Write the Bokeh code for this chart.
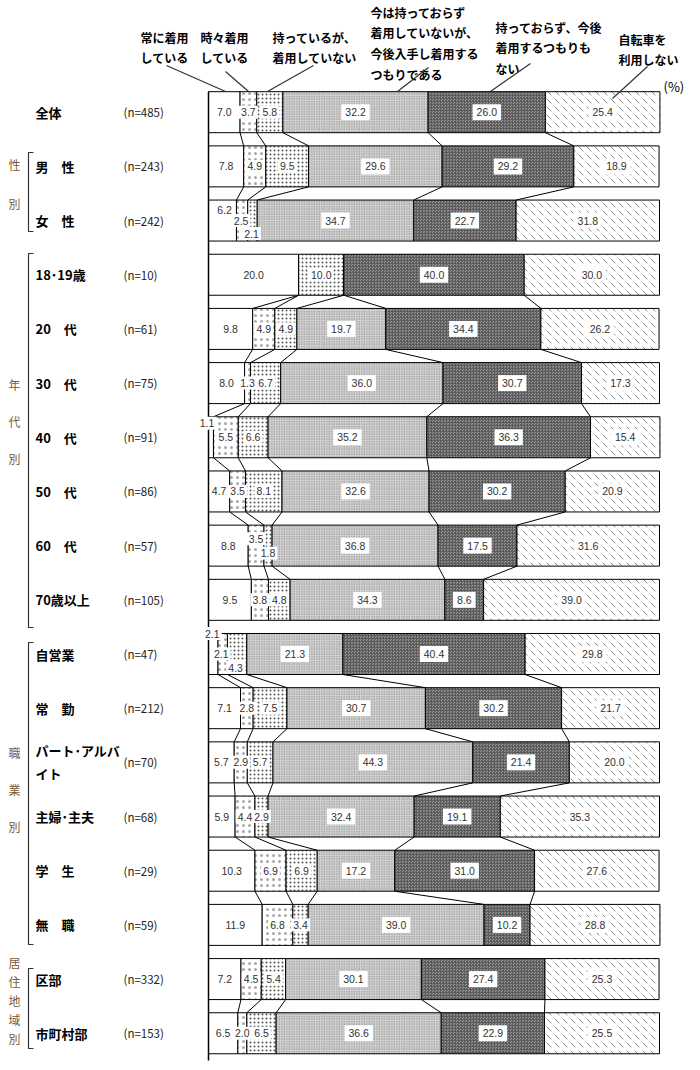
from bokeh.plotting import figure
from bokeh.models import Range1d, ColumnDataSource
from bokeh.core.properties import value
from bokeh.embed import file_html
from bokeh.resources import INLINE

# ---------------- data ----------------
row_labels = ["全体", "男　性", "女　性", "18･19歳", "20　代", "30　代", "40　代", "50　代",
              "60　代", "70歳以上", "自営業", "常　勤", "パート･アルバ\nイト", "主婦･主夫",
              "学　生", "無　職", "区部", "市町村部"]
n_values = [485, 243, 242, 10, 61, 75, 91, 86, 57, 105, 47, 212, 70, 68, 29, 59, 332, 153]

categories = ["常に着用\nしている", "時々着用\nしている", "持っているが、\n着用していない",
              "今は持っておらず\n着用していないが、\n今後入手し着用する\nつもりである",
              "持っておらず、今後\n着用するつもりも\nない", "自転車を\n利用しない"]

always_wear    = [7.0, 7.8, 6.2, 20.0, 9.8, 8.0, 1.1, 4.7, 8.8, 9.5, 2.1, 7.1, 5.7, 5.9, 10.3, 11.9, 7.2, 6.5]
sometimes_wear = [3.7, 4.9, 2.5, 0.0, 4.9, 1.3, 5.5, 3.5, 3.5, 3.8, 2.1, 2.8, 2.9, 4.4, 6.9, 6.8, 4.5, 2.0]
own_not_wear   = [5.8, 9.5, 2.1, 10.0, 4.9, 6.7, 6.6, 8.1, 1.8, 4.8, 4.3, 7.5, 5.7, 2.9, 6.9, 3.4, 5.4, 6.5]
plan_to_wear   = [32.2, 29.6, 34.7, 0.0, 19.7, 36.0, 35.2, 32.6, 36.8, 34.3, 21.3, 30.7, 44.3, 32.4, 17.2, 39.0, 30.1, 36.6]
no_plan        = [26.0, 29.2, 22.7, 40.0, 34.4, 30.7, 36.3, 30.2, 17.5, 8.6, 40.4, 30.2, 21.4, 19.1, 31.0, 10.2, 27.4, 22.9]
no_bicycle     = [25.4, 18.9, 31.8, 30.0, 26.2, 17.3, 15.4, 20.9, 31.6, 39.0, 29.8, 21.7, 20.0, 35.3, 27.6, 28.8, 25.3, 25.5]

series = [always_wear, sometimes_wear, own_not_wear, plan_to_wear, no_plan, no_bicycle]

# row i is joined to row i-1 by connector lines
linked_to_previous = [False, True, True, False, True, True, True, True, True, True,
                      False, True, True, True, True, True, False, True]

groups = [("性\n別", 1, 2), ("年\n代\n別", 3, 9), ("職\n業\n別", 10, 15), ("居\n住\n地\n域\n別", 16, 17)]

# ---------------- layout helpers (page pixel -> data) ----------------
PX0, PXW = 208.0, 4.51          # x of 0 %, pixels per %
PY0, PYS = 111.7, 54.18         # y of first row centre, pixels per row
W, H = 700, 1066


def X(px):
    return (px - PX0) / PXW


def Y(py):
    return (py - PY0) / PYS


BAR_H = 41.0 / PYS

p = figure(width=W, height=H, output_backend="svg", toolbar_location=None,
           x_range=Range1d(X(0), X(W)), y_range=Range1d(Y(H), Y(0)),
           min_border=0, min_border_left=0, min_border_right=0,
           min_border_top=0, min_border_bottom=0)
p.axis.visible = False
p.grid.visible = False
p.outline_line_color = None
p.background_fill_color = "white"

styles = [
    dict(fill_color="white"),
    dict(fill_color="white", hatch_pattern="dot", hatch_scale=6, hatch_weight=0.5, hatch_color="#a8a8a8"),
    dict(fill_color="white", hatch_pattern="dot", hatch_scale=4, hatch_weight=0.6, hatch_color="#555555"),
    dict(fill_color="#d2d2d2", hatch_pattern="dot", hatch_scale=2.5, hatch_weight=0.9, hatch_color="#7a7a7a"),
    dict(fill_color="#999999", hatch_pattern="criss_cross", hatch_scale=3, hatch_weight=0.8, hatch_color="#555555"),
    dict(fill_color="white", hatch_pattern="left_diagonal_dash", hatch_scale=8, hatch_weight=0.9, hatch_color="#777777"),
]

nrows = len(row_labels)
rows = list(range(nrows))
cum = [[0.0] * nrows]
for s in series:
    cum.append([c + v for c, v in zip(cum[-1], s)])

for k, s in enumerate(series):
    src = ColumnDataSource(dict(y=rows, left=cum[k], right=cum[k + 1]))
    p.hbar(y="y", left="left", right="right", height=BAR_H, source=src,
           line_color="black", line_width=1, **styles[k])

# connectors between linked rows
cx0, cy0, cx1, cy1 = [], [], [], []
for i in range(1, nrows):
    if not linked_to_previous[i]:
        continue
    for k in range(1, 6):
        cx0.append(cum[k][i - 1]); cy0.append(i - 1 + BAR_H / 2)
        cx1.append(cum[k][i]); cy1.append(i - BAR_H / 2)
p.segment(x0=cx0, y0=cy0, x1=cx1, y1=cy1, line_color="black", line_width=1)

# left baseline
p.segment(x0=[0], y0=[-BAR_H / 2], x1=[0], y1=[Y(1060)], line_color="black", line_width=1.5)

# value labels
offsets = {  # (row, category): (dx px, dy px)
    (2, 0): (2, -11), (2, 1): (-1, 0), (2, 2): (-1, 13),
    (6, 0): (-4, -14),
    (8, 1): (0, -7), (8, 2): (0, 7.5),
    (10, 0): (-1, -20.5), (10, 1): (-1.5, 0), (10, 2): (-1.5, 13.5),
}
lx, ly, lt, bw, bh = [], [], [], [], []
for k, s in enumerate(series):
    for i, v in enumerate(s):
        if v <= 0:
            continue
        o = offsets.get((i, k), (0, 0))
        lx.append((cum[k][i] + cum[k + 1][i]) / 2 + o[0] / PXW)
        ly.append(i + o[1] / PYS)
        t = f"{v:.1f}"
        lt.append(t)
        big = k >= 3
        bw.append(len(t) * 5.6 + (6 if big else 2))
        bh.append(16 if big else 13)
lsrc = ColumnDataSource(dict(x=lx, y=ly, t=lt, w=bw, h=bh))
p.rect(x="x", y="y", width="w", height="h", width_units="screen", height_units="screen",
       source=lsrc, fill_color="white", line_color=None)
p.text(x="x", y="y", text="t", source=lsrc,
       text_font=value("Liberation Sans"), text_font_size="10.5px", text_color="#333333",
       text_align="center", text_baseline="middle")

# row labels
p.text(x=[X(35)] * nrows, y=rows, text=row_labels, text_font=value("Noto Sans CJK JP"),
       text_font_size="13px", text_font_style="bold", text_color="black",
       text_align="left", text_baseline="middle", text_line_height=1.2)
p.text(x=[X(123)] * nrows, y=rows, text=[f"(n={n})" for n in n_values],
       text_font=value("Noto Sans CJK JP"), text_font_size="11.5px", text_color="#222222",
       text_align="left", text_baseline="middle")

# group brackets and labels
bracket_px = {1: (152, 231), 3: (253, 627), 10: (642, 944), 16: (968, 1048)}
label_px = {1: (183.5, 2.25), 3: (421, 2.2), 10: (789, 2.2), 16: (1000, 1.12)}
for name, a, b in groups:
    top, bot = bracket_px[a]
    p.line(x=[X(33), X(28), X(28), X(33)], y=[Y(top), Y(top), Y(bot), Y(bot)],
           line_color="#333333", line_width=1.2)
    cy, lh = label_px[a]
    p.text(x=[X(14)], y=[Y(cy)], text=[name], text_font=value("Noto Sans CJK JP"),
           text_font_size="12px", text_color="#7a5a3a", text_align="center",
           text_baseline="middle", text_line_height=lh)

# header labels with leader lines
head_pos = [(140, 35), (200, 35), (272, 35), (370, 10), (495, 25), (618, 37)]
for t, (hx, hy) in zip(categories, head_pos):
    p.text(x=[X(hx)], y=[Y(hy - 7)], text=[t], text_font=value("Noto Sans CJK JP"),
           text_font_size="12px", text_font_style="bold", text_color="black",
           text_align="left", text_baseline="top", text_line_height=1.22)
leaders = [((166, 65), (225, 91)), ((225, 71), (248, 91)), ((313, 65), (267, 91)),
           ((428, 67), (397, 91)), ((530, 63), (490, 91)), ((647, 66), (612, 98))]
p.segment(x0=[X(a[0]) for a, b in leaders], y0=[Y(a[1]) for a, b in leaders],
          x1=[X(b[0]) for a, b in leaders], y1=[Y(b[1]) for a, b in leaders],
          line_color="#333333", line_width=1.2)
p.text(x=[X(663)], y=[Y(86)], text=["(%)"], text_font=value("Noto Sans CJK JP"),
       text_font_size="13px", text_color="black", text_align="left", text_baseline="middle")

open("out.html", "w").write(file_html(p, INLINE))
